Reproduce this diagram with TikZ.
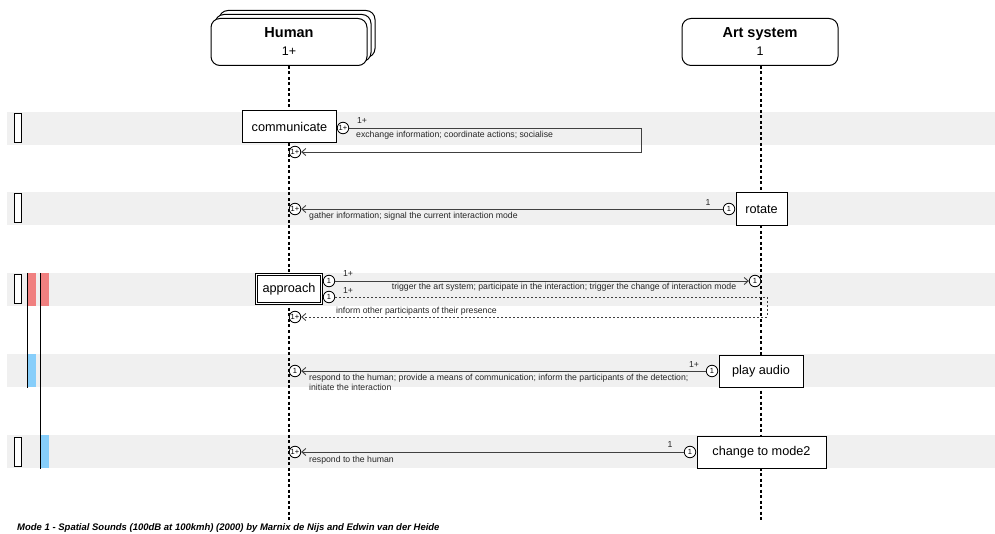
\documentclass[tikz,border=0pt]{standalone}
\usepackage{fontspec}
\setmainfont{Liberation Sans}
\usetikzlibrary{arrows.meta,calc,positioning}
\definecolor{bandgray}{HTML}{F0F0F0}
\definecolor{modered}{HTML}{F08080}
\definecolor{modeblue}{HTML}{87CEFA}
\tikzstyle{actor}=[draw,rounded corners=9pt,fill=white,minimum width=156pt,minimum height=47pt,inner sep=0pt,line width=1pt,align=center,font=\fontsize{12.5}{18}\selectfont]
\tikzstyle{activity}=[draw,fill=white,inner sep=0pt,minimum height=32pt,line width=1pt,font=\fontsize{12.7}{14}\selectfont]
\tikzstyle{mult}=[circle,draw,fill=white,inner sep=0pt,minimum size=11.5pt,line width=0.8pt,font=\fontsize{7.5}{7.5}\selectfont]
\tikzstyle{msg}=[draw,black!75,line width=0.9pt,-{Straight Barb[length=4pt,width=7pt]}]
\tikzstyle{weight}=[font=\fontsize{8.7}{10}\selectfont,inner sep=0pt,text=black!85]
\tikzstyle{lifeline}=[draw,line width=1.1pt,dash pattern=on 3pt off 2.5pt]
\tikzstyle{modebox}=[draw,fill=white,line width=1pt]

\begin{document}
\begin{tikzpicture}[x=1pt,y=-1pt]
    \useasboundingbox (0,0) rectangle (995,534);

    % First we draw the bands of the five rows
    \foreach \y in {112,192,273,354,435}
        \fill[bandgray] (7,\y) rectangle (995,\y+33);

    % mode markers on the left
    \foreach \y in {112,192,273,435}
        \draw[modebox] (14,\y+2) rectangle (21,\y+31);
    \fill[modered] (27,273) rectangle (36,306);
    \fill[modered] (40,273) rectangle (49,306);
    \fill[modeblue] (27,354) rectangle (36,387);
    \fill[modeblue] (40,435) rectangle (49,468);
    \draw[line width=1pt] (27,273) -- (27,388);
    \draw[line width=1pt] (40,273) -- (40,469);

    % Then the actors with their lifelines
    \node[actor] (humanback) at (297,34) {};
    \node[actor] (humanmid) at (293,38) {};
    \node[actor] (human) at (289,42) {{\fontsize{14.5}{18}\selectfont\bfseries Human}\\1+};
    \node[actor] (art) at (760,42) {{\fontsize{14.5}{18}\selectfont\bfseries Art system}\\1};
    \coordinate (humanend) at (289,520);
    \coordinate (artend) at (761,520);
    \path[lifeline] (human) -- (humanend);
    \path[lifeline] (art.south -| artend) -- (artend);

    % communicate
    \node[activity,minimum width=94pt] (communicate) at (289.5,127) {communicate};
    \node[mult] (c1) at (343,128) {1+};
    \node[mult] (c2) at (295,152) {1+};
    \coordinate (c1turn) at (641,128);
    \coordinate (c2turn) at (641,152);
    \path[msg] (c1) -- (c1turn) -- (c2turn) -- (c2);
    \node[weight] at (362,121) {1+};
    \node[weight,anchor=west] at (356,135) {exchange information; coordinate actions; socialise};

    % rotate
    \node[activity,minimum width=51pt,minimum height=33pt] (rotate) at (761.5,209) {rotate};
    \node[mult] (r1) at (729,209) {1};
    \node[mult] (r2) at (295,209) {1+};
    \path[msg] (r1) -- (r2);
    \node[weight] at (708,203) {1};
    \node[weight,anchor=west] at (309,216) {gather information; signal the current interaction mode};

    % approach
    \node[activity,line width=0.8pt,minimum width=67pt,minimum height=31pt] (approach) at (289,289) {approach};
    \draw[line width=0.8pt] ([shift={(2.2,2.2)}]approach.north west) rectangle ([shift={(-2.2,-2.2)}]approach.south east);
    \node[mult] (a1) at (329,281) {1};
    \node[mult] (a2) at (329,297) {1};
    \node[mult] (a3) at (755,281) {1};
    \node[mult] (a4) at (295,317) {1+};
    \path[msg] (a1) -- (a3);
    \coordinate (a2turn) at (767,297);
    \coordinate (a4turn) at (767,317);
    \path[msg,dash pattern=on 2pt off 2pt] (a2) -- (a2turn) -- (a4turn) -- (a4);
    \node[weight] at (348,274) {1+};
    \node[weight] at (348,291) {1+};
    \node[weight] at (564,287) {trigger the art system; participate in the interaction; trigger the change of interaction mode};
    \node[weight,anchor=west] at (336,311) {inform other participants of their presence};

    % play audio
    \node[activity,minimum width=84pt] (play) at (761,371) {play audio};
    \node[mult] (p1) at (712,371) {1};
    \node[mult] (p2) at (295,371) {1};
    \path[msg] (p1) -- (p2);
    \node[weight] at (694,365) {1+};
    \node[weight,anchor=north west,align=left] at (309,374) {respond to the human; provide a means of communication; inform the participants of the detection;\\initiate the interaction};

    % change to mode2
    \node[activity,minimum width=129pt] (change) at (761.5,452) {change to mode2};
    \node[mult] (m1) at (690,452) {1};
    \node[mult] (m2) at (295,452) {1+};
    \path[msg] (m1) -- (m2);
    \node[weight] at (670,445) {1};
    \node[weight,anchor=west] at (309,460) {respond to the human};

    \node[anchor=west,inner sep=0pt,font=\fontsize{9.5}{11}\selectfont\bfseries\itshape] (caption) at (17,528) {Mode 1 - Spatial Sounds (100dB at 100kmh) (2000) by Marnix de Nijs and Edwin van der Heide};
\end{tikzpicture}
\end{document}
